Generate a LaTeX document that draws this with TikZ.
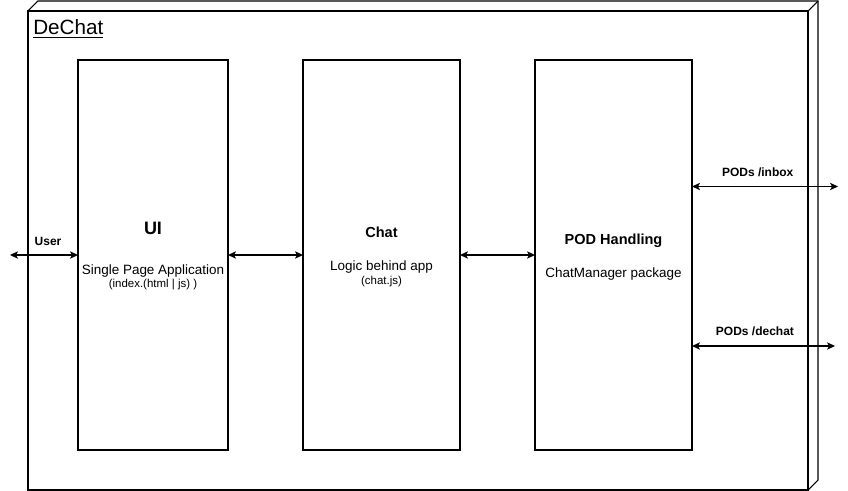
\documentclass[tikz,border=0pt]{standalone}
\usepackage{fontspec}
\setmainfont{Liberation Sans}
\usetikzlibrary{arrows.meta,positioning}
\tikzset{
    %Define standard arrow tip
    >={Stealth[length=6pt,width=5.5pt,inset=1.5pt]},
    %Define style for the outer frame
    frame/.style={
           rectangle,
           draw=black, line width=0.8pt,
           minimum width=585pt,
           minimum height=359.25pt,
           outer sep=0pt},
    %Define style for boxes
    box/.style={
           rectangle,
           draw=black, line width=0.8pt,
           minimum width=112.5pt,
           minimum height=292.5pt,
           outer sep=0pt},
    widebox/.style={
           box,
           minimum width=117.75pt},
    % Define text styles
    title/.style={anchor=base west, inner sep=0pt, font=\fontsize{15.5}{18}\selectfont},
    head/.style={anchor=base, inner sep=0pt, font=\bfseries\fontsize{10.9}{13}\selectfont},
    bighead/.style={head, font=\bfseries\fontsize{13.5}{16}\selectfont},
    sub/.style={anchor=base, inner sep=0pt, font=\fontsize{10.1}{12}\selectfont},
    note/.style={anchor=base, inner sep=0pt, font=\fontsize{8.6}{10}\selectfont},
    lbl/.style={above=7pt, inner sep=0pt, font=\bfseries\fontsize{9}{11}\selectfont},
    % Define arrow style
    both/.style={
           <->,
           line width=0.8pt}
}
\begin{document}
\begin{tikzpicture}[x=0.75pt, y=-0.75pt]
 \useasboundingbox (0,0) rectangle (848,491);
 %nodes
    \node[frame] (dechat) at (418,250.5) {};
    \draw[line width=0.8pt] (dechat.north west) -- ++(10,-10) -| ([shift={(10,-10)}]dechat.south east) -- (dechat.south east);
    \draw[line width=0.8pt] (dechat.north east) -- ++(10,-10);
    \node[title] (name) at ([shift={(5,24)}]dechat.north west) {\underline{DeChat}};
    \node[box] (ui) at (153,255) {};
    \node[widebox, right=56.25pt of ui] (chat) {};
    \node[widebox, right=56.25pt of chat] (pod) {};
    \node[bighead] (uihead) at ([shift={(0,-20)}]ui.center) {UI};
    \node[sub] (uisub) at ([shift={(0,19)}]ui.center) {Single Page Application};
    \node[note] (uinote) at ([shift={(0,32)}]ui.center) {(index.(html | js) )};
    \node[head] (chathead) at ([shift={(0,-17)}]chat.center) {Chat};
    \node[sub] (chatsub) at ([shift={(0,16)}]chat.center) {Logic behind app};
    \node[note] (chatnote) at ([shift={(0,29)}]chat.center) {(chat.js)};
    \node[head] (podhead) at ([shift={(0,-10)}]pod.center) {POD Handling};
    \node[sub] (podsub) at ([shift={(0,22)}]pod.center) {ChatManager package};
    \coordinate (user) at (10,255);
    \coordinate (inbox) at (838,186.5);
    \coordinate (store) at (835,346);
 %edges
    \draw[both] (user) to node[lbl, pos=0.56] (userlbl) {User} (ui);
    \draw[both] (ui) to (chat);
    \draw[both] (chat) to (pod);
    \draw[both] (pod.east |- inbox) to node[lbl, pos=0.45] (inboxlbl) {PODs /inbox} (inbox);
    \draw[both] (pod.east |- store) to node[lbl, pos=0.44] (storelbl) {PODs /dechat} (store);
\end{tikzpicture}
\end{document}
